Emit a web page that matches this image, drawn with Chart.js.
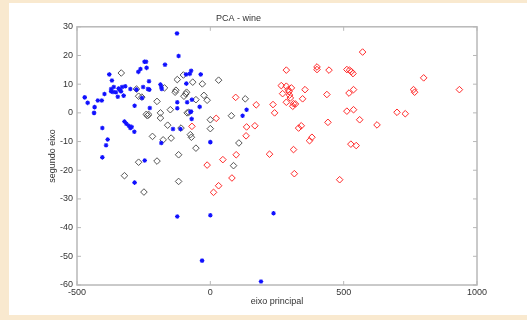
<!DOCTYPE html>
<html>
<head>
<meta charset="utf-8">
<title>PCA - wine</title>
<script src="https://cdn.jsdelivr.net/npm/chart.js"></script>
<style>
  html, body { margin: 0; padding: 0; background: #f9e9cf; }
  #pcaChart { position: absolute; left: 0; top: 0; filter: blur(0.35px); }
</style>
</head>
<body>
<canvas id="pcaChart" width="527" height="320"></canvas>
<script>
// class 1 (blue stars)
const class1X = [-471, -460, -434, -436, -422, -407, -397, -405, -391, -385, -405, -379, -369, -372, -372, -362,
  -365, -354, -344, -347, -340, -335, -331, -319, -325, -300, -322, -315, -306, -300, -295, -285, -284, -284,
  -277, -270, -262, -256, -252, -247, -241, -239, -246, -234, -230, -227, -229, -187, -184, -182, -184, -170,
  -140, -125, -119, -124, -124, -124, -112, -90, -91, -87, -77, -72, -72, -70, -69, -40, -36, 0, 0, -31, 121,
  136, 190, 237, -75];
const class1Y = [5.4, 3.5, 2.0, 0.0, 4.3, 4.3, 6.6, -5.3, -11.3, -9.3, -15.5, 13.4, 11.3, 8.3, 7.5, 9.0,
  7.3, 7.2, 8.5, 5.6, 8.1, 7.5, 9.0, 9.3, 6.0, 8.3, -3.0, -3.8, -4.5, -5.3, -4.9, -6.6, -24.3, 2.5,
  8.1, 14.3, 15.3, 5.2, 9.0, 17.8, 17.8, 15.7, -16.6, 8.3, 11.0, 1.7, 8.1, 9.9, 9.0, 8.3, -10.5, 16.8,
  -5.6, 27.7, 19.8, 3.7, 1.6, -36.1, -5.6, 10.2, 13.4, 3.7, 13.6, 14.7, 0.5, -2.1, 4.6, 2.1, 13.4, -10.2, -35.7, -51.5, -1.0,
  1.1, -58.8, -35.0, 0.3];

// class 2 (gray diamonds)
const class2X = [-334, -277, -269, -257, -240, -236, -231, -217, -200, -187, -187, -172, -177, -160, -147, -150,
  -132, -124, -129, -119, -119, -110, -101, -99, -92, -89, -87, -81, -75, -71, -66, -54, -54, -30, -24, -12,
  0, 0, 31, 79, 87, 107, 131, -269, -200, -322, -249];
const class2Y = [13.9, 8.3, 5.8, 5.5, -0.5, -1.0, -0.6, -8.2, 4.0, 0.0, -1.8, 8.7, -9.4, -4.3, -8.8, 1.1,
  7.2, 11.6, 7.9, -14.6, -23.9, -5.3, 13.2, 5.8, 6.6, 7.2, 0.0, 0.2, -7.6, -8.5, 10.7, 4.6, -12.3, 10.1, 6.1, 4.4,
  -2.4, -5.5, 11.4, -1.0, -18.4, -10.5, 4.9, -17.2, -16.8, -21.9, -27.6];

// class 3 (red diamonds)
const class3X = [-69, -12, 22, 12, 31, 47, 81, 97, 95, 134, 136, 167, 172, 222, 235, 241, 266, 271, 285, 285,
  285, 292, 295, 300, 297, 304, 309, 312, 312, 319, 315, 331, 341, 346, 355, 372, 381, 400, 400, 445, 437, 441,
  485, 512, 520, 512, 522, 529, 535, 537, 537, 527, 547, 560, 571, 625, 700, 731, 762, 766, 800, 934];
const class3Y = [-4.7, -18.2, -1.9, -27.7, -25.4, -16.3, -22.7, -14.6, 5.4, -8.0, -4.9, -4.5, 2.8, -14.4, 2.9, 0.0, 9.5, 6.7, 14.9, 9.3,
  3.7, 8.1, 7.4, 5.2, 6.2, 8.7, 2.3, 3.2, -12.8, 3.1, -21.2, -5.3, -4.5, 4.9, 8.1, -9.7, -8.5, 16.0, 15.1, 14.9, 6.4, -3.3,
  -23.3, 0.6, 6.9, 15.1, 14.9, 14.4, 13.7, 8.1, 1.1, -10.9, -11.4, -2.4, 21.2, -4.2, 0.2, -0.3, 8.1, 7.2, 12.2, 8.1];

const xTicks = [-500, 0, 500, 1000];
const yTicks = [-60, -50, -40, -30, -20, -10, 0, 10, 20, 30];

function toPoints(xs, ys) {
  return xs.map((x, i) => ({ x: x, y: ys[i] }));
}

// paper background + white figure area
const paperBg = {
  id: 'paperBg',
  beforeDraw(chart) {
    const ctx = chart.ctx;
    ctx.save();
    ctx.fillStyle = '#f9e9cf';
    ctx.fillRect(0, 0, chart.width, chart.height);
    ctx.fillStyle = '#ffffff';
    ctx.fillRect(9, 3, chart.width - 9, chart.height - 8);
    ctx.restore();
  }
};

// matlab style box with ticks pointing inwards
const matlabBox = {
  id: 'matlabBox',
  afterDatasetsDraw(chart) {
    const ctx = chart.ctx;
    const a = chart.chartArea;
    const xs = chart.scales.x, ys = chart.scales.y;
    const len = 4;
    ctx.save();
    ctx.strokeStyle = '#b8b8b8';
    ctx.lineWidth = 1.5;
    ctx.strokeRect(a.left, a.top, a.right - a.left, a.bottom - a.top);
    ctx.lineWidth = 1;
    ctx.beginPath();
    xTicks.forEach(v => {
      const px = xs.getPixelForValue(v);
      ctx.moveTo(px, a.bottom); ctx.lineTo(px, a.bottom - len);
      ctx.moveTo(px, a.top); ctx.lineTo(px, a.top + len);
    });
    yTicks.forEach(v => {
      const py = ys.getPixelForValue(v);
      ctx.moveTo(a.left, py); ctx.lineTo(a.left + len, py);
      ctx.moveTo(a.right, py); ctx.lineTo(a.right - len, py);
    });
    ctx.stroke();
    ctx.restore();
  }
};

const font = { family: 'Liberation Sans, Arial, sans-serif', size: 9, weight: 'normal' };

new Chart(document.getElementById('pcaChart'), {
  type: 'scatter',
  data: {
    datasets: [
      {
        label: 'classe 1',
        data: toPoints(class1X, class1Y),
        pointStyle: 'star',
        radius: 2.3,
        borderWidth: 1.1,
        borderColor: '#1010ff',
        backgroundColor: '#1010ff'
      },
      {
        label: 'classe 2',
        data: toPoints(class2X, class2Y),
        pointStyle: 'rectRot',
        radius: 3.3,
        borderWidth: 1,
        borderColor: '#555555',
        backgroundColor: 'rgba(0,0,0,0)'
      },
      {
        label: 'classe 3',
        data: toPoints(class3X, class3Y),
        pointStyle: 'rectRot',
        radius: 3.3,
        borderWidth: 1,
        borderColor: '#ff2a2a',
        backgroundColor: 'rgba(0,0,0,0)'
      }
    ]
  },
  options: {
    responsive: false,
    animation: false,
    layout: { padding: { left: 0, right: 50, top: 0, bottom: 0 } },
    plugins: {
      legend: { display: false },
      tooltip: { enabled: false },
      title: {
        display: true,
        text: 'PCA - wine',
        color: '#333333',
        font: font,
        padding: { top: 13, bottom: 3 }
      }
    },
    scales: {
      x: {
        type: 'linear',
        min: -500,
        max: 1000,
        afterBuildTicks(scale) { scale.ticks = xTicks.map(v => ({ value: v })); },
        afterFit(scale) { scale.height = 35; },
        grid: { display: false, drawTicks: false },
        border: { display: false },
        ticks: { color: '#333333', font: font, padding: 2, maxRotation: 0, callback: v => String(v) },
        title: { display: true, text: 'eixo principal', color: '#333333', font: font, padding: { top: 0, bottom: 12.6 } }
      },
      y: {
        type: 'linear',
        min: -60,
        max: 30,
        afterBuildTicks(scale) { scale.ticks = yTicks.map(v => ({ value: v })); },
        afterFit(scale) { scale.width = 77; },
        grid: { display: false, drawTicks: false },
        border: { display: false },
        ticks: { color: '#333333', font: font, padding: 4, callback: v => String(v) },
        title: { display: true, text: 'segundo eixo', color: '#333333', font: font, padding: { top: 47.6, bottom: 0 } }
      }
    }
  },
  plugins: [paperBg, matlabBox]
});
</script>
</body>
</html>
